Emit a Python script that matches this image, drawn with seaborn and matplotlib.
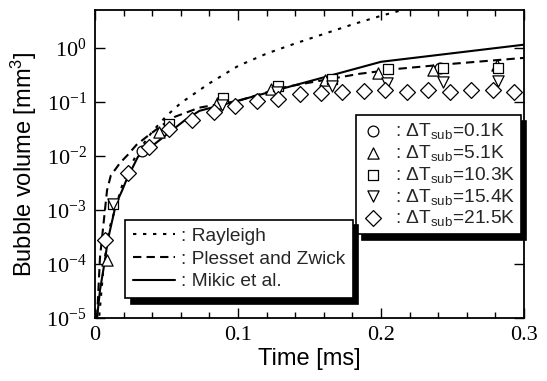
import pandas as pd
import seaborn as sns
import matplotlib.pyplot as plt
from matplotlib.ticker import MultipleLocator, LogLocator, NullLocator


# model curves (time [ms], volume [mm^3])
t_rayleigh = [0.003, 0.006, 0.01, 0.02, 0.03, 0.04, 0.05, 0.06, 0.08, 0.10,
              0.12, 0.14, 0.16, 0.18, 0.20, 0.215]
v_rayleigh = [1.1e-5, 9e-5, 4.5e-4, 3.5e-3, 0.012, 0.028, 0.055, 0.095, 0.22, 0.46,
              0.78, 1.2, 1.8, 2.7, 3.9, 5.0]

t_plesset = [0.0014, 0.0035, 0.0084, 0.011, 0.0175, 0.023, 0.029, 0.037, 0.047, 0.056,
             0.073, 0.10, 0.13, 0.143, 0.185, 0.213, 0.248, 0.30]
v_plesset = [1e-5, 1.35e-4, 2.3e-3, 4.3e-3, 7.4e-3, 0.0105, 0.016, 0.0235, 0.037, 0.053,
             0.078, 0.104, 0.18, 0.21, 0.33, 0.41, 0.50, 0.65]

t_mikic = [0.0014, 0.0035, 0.007, 0.009, 0.0126, 0.0147, 0.019, 0.022, 0.03, 0.041,
           0.054, 0.063, 0.073, 0.10, 0.20, 0.30]
v_mikic = [1e-5, 3.3e-5, 1.2e-4, 2.8e-4, 7.4e-4, 1.3e-3, 2.3e-3, 3.6e-3, 9.6e-3, 0.016,
           0.030, 0.046, 0.068, 0.105, 0.55, 1.14]

# experiments
t_01 = [0.033, 0.241]
v_01 = [0.0123, 0.43]

t_51 = [0.0084, 0.045, 0.085, 0.123, 0.161, 0.198, 0.236, 0.281]
v_51 = [1.2e-4, 0.028, 0.096, 0.174, 0.255, 0.345, 0.39, 0.48]

t_103 = [0.0126, 0.052, 0.0895, 0.128, 0.166, 0.205, 0.243, 0.282]
v_103 = [1.3e-3, 0.039, 0.119, 0.195, 0.267, 0.41, 0.43, 0.43]

t_154 = [0.0126, 0.089, 0.127, 0.166, 0.204, 0.243, 0.282]
v_154 = [1.3e-3, 0.088, 0.153, 0.198, 0.225, 0.235, 0.245]

t_215 = [0.007, 0.023, 0.038, 0.052, 0.068, 0.083, 0.098, 0.113, 0.128, 0.143,
         0.158, 0.173, 0.188, 0.203, 0.218, 0.233, 0.248, 0.263, 0.278, 0.293]
v_215 = [2.8e-4, 4.9e-3, 0.0147, 0.032, 0.047, 0.065, 0.084, 0.104, 0.114, 0.14,
         0.145, 0.15, 0.16, 0.165, 0.155, 0.165, 0.155, 0.165, 0.165, 0.155]

sns.set_theme(style="ticks")
plt.rcParams["font.family"] = ["Liberation Sans", "DejaVu Sans"]
plt.rcParams["mathtext.default"] = "regular"

fig, ax = plt.subplots(figsize=(5.47, 3.81), dpi=100)
fig.subplots_adjust(left=0.1737, right=0.958, bottom=0.1654, top=0.9738)

# lines
line_kw = dict(ax=ax, color="black", lw=1.5, sort=False, estimator=None, errorbar=None)
sns.lineplot(x=t_rayleigh, y=v_rayleigh, linestyle=(0, (1.6, 3.2)), label=": Rayleigh", **line_kw)
sns.lineplot(x=t_plesset, y=v_plesset, linestyle=(0, (4, 2.5)), label=": Plesset and Zwick", **line_kw)
sns.lineplot(x=t_mikic, y=v_mikic, linestyle="-", label=": Mikic et al.", **line_kw)

# markers
exp = [
    (t_01, v_01, "o", 60, ": ΔT$_{sub}$=0.1K"),
    (t_51, v_51, "^", 65, ": ΔT$_{sub}$=5.1K"),
    (t_103, v_103, "s", 55, ": ΔT$_{sub}$=10.3K"),
    (t_154, v_154, "v", 65, ": ΔT$_{sub}$=15.4K"),
    (t_215, v_215, "D", 65, ": ΔT$_{sub}$=21.5K"),
]
for t, v, m, s, lab in exp:
    sns.scatterplot(x=t, y=v, marker=m, s=s, facecolor="white", edgecolor="black",
                    linewidth=0.9, ax=ax, label=lab, zorder=3)

ax.set_yscale("log")
ax.set_xlim(0, 0.3)
ax.set_ylim(1e-5, 5)
ax.set_xticks([0, 0.1, 0.2, 0.3], ["0", "0.1", "0.2", "0.3"])
ax.xaxis.set_minor_locator(MultipleLocator(0.02))
ax.yaxis.set_major_locator(LogLocator(base=10, numticks=10))
ax.yaxis.set_minor_locator(NullLocator())
ax.tick_params(which="both", direction="in", top=True, right=True, color="black",
               labelsize=16, labelfontfamily="Liberation Serif", labelcolor="black")
ax.tick_params(which="major", length=7, width=1, pad=6)
ax.tick_params(which="minor", length=4, width=1)
for sp in ax.spines.values():
    sp.set_color("black")
    sp.set_linewidth(1.3)

ax.set_xlabel("Time [ms]", fontsize=17, color="black", labelpad=2)
ax.set_ylabel("Bubble volume [mm$^3$]", fontsize=17, color="black", labelpad=5)

h, l = ax.get_legend_handles_labels()
shadow = {"ox": 4, "oy": -4, "color": "black", "alpha": 1}
leg1 = ax.legend(h[3:], l[3:], loc="upper right", bbox_to_anchor=(0.992, 0.659),
                 borderaxespad=0, fancybox=False, edgecolor="black", framealpha=1,
                 shadow=shadow, fontsize=13.8, handletextpad=0.5, labelspacing=0.1,
                 borderpad=0.3, handlelength=1.2)
leg1.get_frame().set_linewidth(1.2)
ax.add_artist(leg1)
leg2 = ax.legend(h[:3], l[:3], loc="lower left", bbox_to_anchor=(0.07, 0.065),
                 borderaxespad=0, fancybox=False, edgecolor="black", framealpha=1,
                 shadow=shadow, fontsize=13.8, handletextpad=0.3, labelspacing=0.28,
                 borderpad=0.4, handlelength=2.2)
leg2.get_frame().set_linewidth(1.2)

fig.savefig("out.png", dpi=100)
